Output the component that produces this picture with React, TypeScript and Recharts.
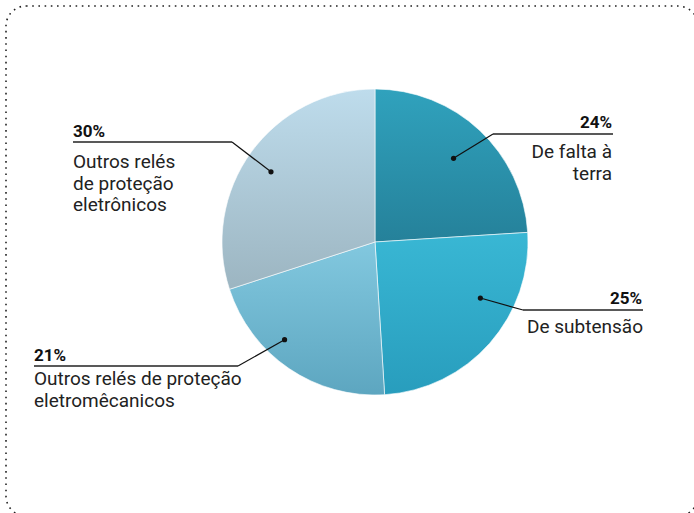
import { PieChart, Pie, Cell } from 'recharts';

// Slices, clockwise from 12 o'clock
const categories = [
  'De falta à terra',
  'De subtensão',
  'Outros relés de proteção eletromêcanicos',
  'Outros relés de proteção eletrônicos',
];
const values = [24, 25, 21, 30];
const labelLines = [
  ['De falta à', 'terra'],
  ['De subtensão'],
  ['Outros relés de proteção', 'eletromêcanicos'],
  ['Outros relés', 'de proteção', 'eletrônicos'],
];

const gradients = [
  ['#30a2bd', '#25819a'],
  ['#39b7d4', '#289dbd'],
  ['#82c8df', '#5da6c0'],
  ['#bedcec', '#9cb5c1'],
];

// where each callout sits (dot angle offset from mid angle, dot radius share, text block)
const callouts = [
  { dAngle: 0, dotR: 0.75, anchor: 'end', x1: 493, x2: 613, lineY: 134, pctY: 128, textX: 612, textY: 158 },
  { dAngle: 13.4, dotR: 0.78, anchor: 'end', x1: 523, x2: 643, lineY: 310, pctY: 304, textX: 643, textY: 333 },
  { dAngle: -8.6, dotR: 0.87, anchor: 'start', x1: 34, x2: 238, lineY: 366, pctY: 361, textX: 34, textY: 385 },
  { dAngle: 2, dotR: 0.82, anchor: 'start', x1: 73, x2: 232, lineY: 142, pctY: 137, textX: 73, textY: 168 },
];

const data = categories.map((name, i) => ({ name, value: values[i] }));
const RAD = Math.PI / 180;
const font = 'Roboto, "Noto Sans", sans-serif';

function renderLabel(props: any) {
  const { cx, cy, midAngle, outerRadius, index, value } = props;
  const c = callouts[index];
  const a = (midAngle + c.dAngle) * RAD;
  const dx = cx + Math.cos(a) * outerRadius * c.dotR;
  const dy = cy - Math.sin(a) * outerRadius * c.dotR;
  const joinX = c.anchor === 'end' ? c.x1 : c.x2;
  const pctX = c.anchor === 'end' ? c.x2 - 1 : c.x1;
  return (
    <g key={`lbl-${index}`}>
      <circle cx={dx} cy={dy} r={2.6} fill="#111" />
      <line x1={dx} y1={dy} x2={joinX} y2={c.lineY} stroke="#111" strokeWidth={1.2} />
      <line x1={c.x1} y1={c.lineY} x2={c.x2} y2={c.lineY} stroke="#222" strokeWidth={1.4} />
      <text x={pctX} y={c.pctY} textAnchor={c.anchor} fontFamily={font} fontWeight={700} fontSize={17} fill="#111">
        {value}%
      </text>
      {labelLines[index].map((ln, k) => (
        <text
          key={k}
          x={c.textX}
          y={c.textY + k * 21.5}
          textAnchor={c.anchor}
          fontFamily={font}
          fontSize={19}
          fill="#222"
        >
          {ln}
        </text>
      ))}
    </g>
  );
}

export default function App() {
  return (
    <div style={{ position: 'absolute', left: 0, top: 0, width: 694, height: 513, background: '#fff' }}>
      <svg width={694} height={513} style={{ position: 'absolute', left: 0, top: 0 }}>
        <rect
          x={6}
          y={6}
          width={692}
          height={510}
          rx={20}
          fill="none"
          stroke="#222"
          strokeWidth={1.6}
          strokeDasharray="1.6 4.6"
        />
      </svg>
      <div style={{ position: 'absolute', left: 0, top: 0 }}>
        <PieChart width={694} height={513} margin={{ top: 0, right: 0, bottom: 0, left: 0 }}>
          <defs>
            {gradients.map((g, i) => (
              <linearGradient key={i} id={`grad${i}`} x1="0" y1="0" x2="0" y2="1">
                <stop offset="0%" stopColor={g[0]} />
                <stop offset="100%" stopColor={g[1]} />
              </linearGradient>
            ))}
          </defs>
          <Pie
            data={data}
            dataKey="value"
            nameKey="name"
            cx={375}
            cy={242}
            outerRadius={153}
            startAngle={90}
            endAngle={-270}
            stroke="#ffffff"
            strokeWidth={0.6}
            label={renderLabel}
            labelLine={false}
            isAnimationActive={false}
          >
            {data.map((d, i) => (
              <Cell key={d.name} fill={`url(#grad${i})`} />
            ))}
          </Pie>
        </PieChart>
      </div>
    </div>
  );
}
